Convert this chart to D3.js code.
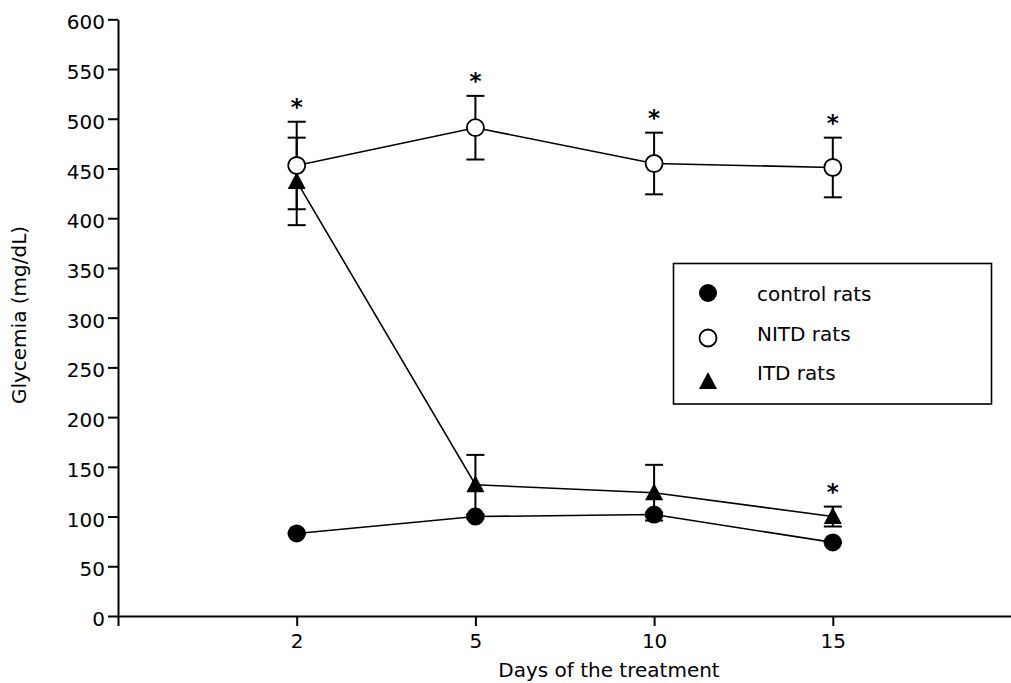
<!DOCTYPE html>
<html>
<head>
<meta charset="utf-8">
<script src="https://cdn.jsdelivr.net/npm/d3@7"></script>
<style>
  body { margin: 0; background: #fff; }
  svg text { font-family: "DejaVu Sans", sans-serif; fill: #000; }
</style>
</head>
<body>
<svg id="chart"></svg>
<script>
// days on the x axis
var days = ["2", "5", "10", "15"];

var controlMean = [83, 100, 102, 74];
var controlSem = [1, 2, 2, 1];
var nitdMean = [453, 491, 455, 451];
var nitdSem = [44, 32, 31, 30];
var itdMean = [437, 132, 124, 100];
var itdSem = [44, 30, 28, 10];

// where a significance star sits above the bar
var nitdStar = [true, true, true, true];
var itdStar = [false, false, false, true];

var yTicks = d3.range(0, 601, 50);
var legendNames = ["control rats", "NITD rats", "ITD rats"];

var width = 1011, height = 683;

var svg = d3.select("#chart")
    .attr("width", width)
    .attr("height", height)

var x = d3.scaleLinear().domain([0, 5]).range([118, 1011.5]);
var y = d3.scaleLinear().domain([0, 600]).range([616, 19.3]);

var xAxis = d3.axisBottom(x)
    .tickValues([0, 1, 2, 3, 4])
    .tickFormat(i => i === 0 ? "" : days[i - 1])
    .tickSize(10)
    .tickSizeOuter(0)
    .tickPadding(8)

var yAxis = d3.axisLeft(y)
    .tickValues(yTicks)
    .tickSize(10)
    .tickSizeOuter(0)
    .tickPadding(3)

var gx = svg.append("g").attr("transform", "translate(0,616)").call(xAxis);
var gy = svg.append("g").attr("transform", "translate(118,0)").call(yAxis);

[gx, gy].forEach(function (g) {
    g.selectAll("path, line").attr("stroke", "#000").attr("stroke-width", 2);
    g.selectAll("text").style("font-size", "20px").attr("fill", "#000");
});
gy.selectAll("text").attr("dy", "0.48em");

svg.append("text")
    .attr("x", 609)
    .attr("y", 677)
    .attr("text-anchor", "middle")
    .style("font-size", "20px")
    .text("Days of the treatment")

svg.append("text")
    .attr("transform", "translate(26,315) rotate(-90)")
    .attr("text-anchor", "middle")
    .style("font-size", "20px")
    .text("Glycemia (mg/dL)")

var series = [
    { mean: itdMean, sem: itdSem, star: itdStar, shape: "triangle" },
    { mean: controlMean, sem: controlSem, star: null, shape: "filled" },
    { mean: nitdMean, sem: nitdSem, star: nitdStar, shape: "open" }
];

function trianglePath(cx, cy) {
    return "M" + cx + "," + (cy - 9.5) + "L" + (cx + 9) + "," + (cy + 7.5) +
        "L" + (cx - 9) + "," + (cy + 7.5) + "Z";
}

var line = d3.line()
    .x((d, i) => x(i + 1))
    .y(d => y(d))

// lines and error bars first
series.forEach(function (s) {
    svg.append("path")
        .attr("d", line(s.mean))
        .attr("fill", "none")
        .attr("stroke", "#000")
        .attr("stroke-width", 1.6)

    var eb = svg.append("g").attr("stroke", "#000").attr("stroke-width", 2);
    s.mean.forEach(function (m, i) {
        var cx = x(i + 1);
        eb.append("line").attr("x1", cx).attr("x2", cx)
            .attr("y1", y(m - s.sem[i])).attr("y2", y(m + s.sem[i]));
        [m - s.sem[i], m + s.sem[i]].forEach(function (v) {
            eb.append("line").attr("x1", cx - 9).attr("x2", cx + 9)
                .attr("y1", y(v)).attr("y2", y(v));
        });
    });

    if (s.star) {
        s.mean.forEach(function (m, i) {
            if (!s.star[i]) return;
            svg.append("text")
                .attr("x", x(i + 1))
                .attr("y", y(m + s.sem[i]) - 7)
                .attr("text-anchor", "middle")
                .style("font-size", "23px")
                .style("font-weight", "bold")
                .text("*")
        });
    }
});

function drawMarker(g, shape, cx, cy) {
    if (shape === "triangle") {
        g.append("path").attr("d", trianglePath(cx, cy)).attr("fill", "#000");
    } else if (shape === "filled") {
        g.append("circle").attr("cx", cx).attr("cy", cy).attr("r", 9).attr("fill", "#000");
    } else {
        g.append("circle").attr("cx", cx).attr("cy", cy).attr("r", 8.5)
            .attr("fill", "#fff").attr("stroke", "#000").attr("stroke-width", 1.8);
    }
}

var markers = svg.append("g");
series.forEach(function (s) {
    s.mean.forEach(function (m, i) {
        drawMarker(markers, s.shape, x(i + 1), y(m));
    });
});

// legend
var legend = svg.append("g");
legend.append("rect")
    .attr("x", 673.5).attr("y", 263.5)
    .attr("width", 318).attr("height", 140.5)
    .attr("fill", "#fff").attr("stroke", "#000").attr("stroke-width", 1.6)

var legendShapes = ["filled", "open", "triangle"];
var legendSymY = [293, 338, 381.5];
var legendTextY = [301, 341, 380];
legendNames.forEach(function (name, i) {
    drawMarker(legend, legendShapes[i], 708, legendSymY[i]);
    legend.append("text")
        .attr("x", 757)
        .attr("y", legendTextY[i])
        .style("font-size", "20px")
        .text(name)
});
</script>
</body>
</html>
